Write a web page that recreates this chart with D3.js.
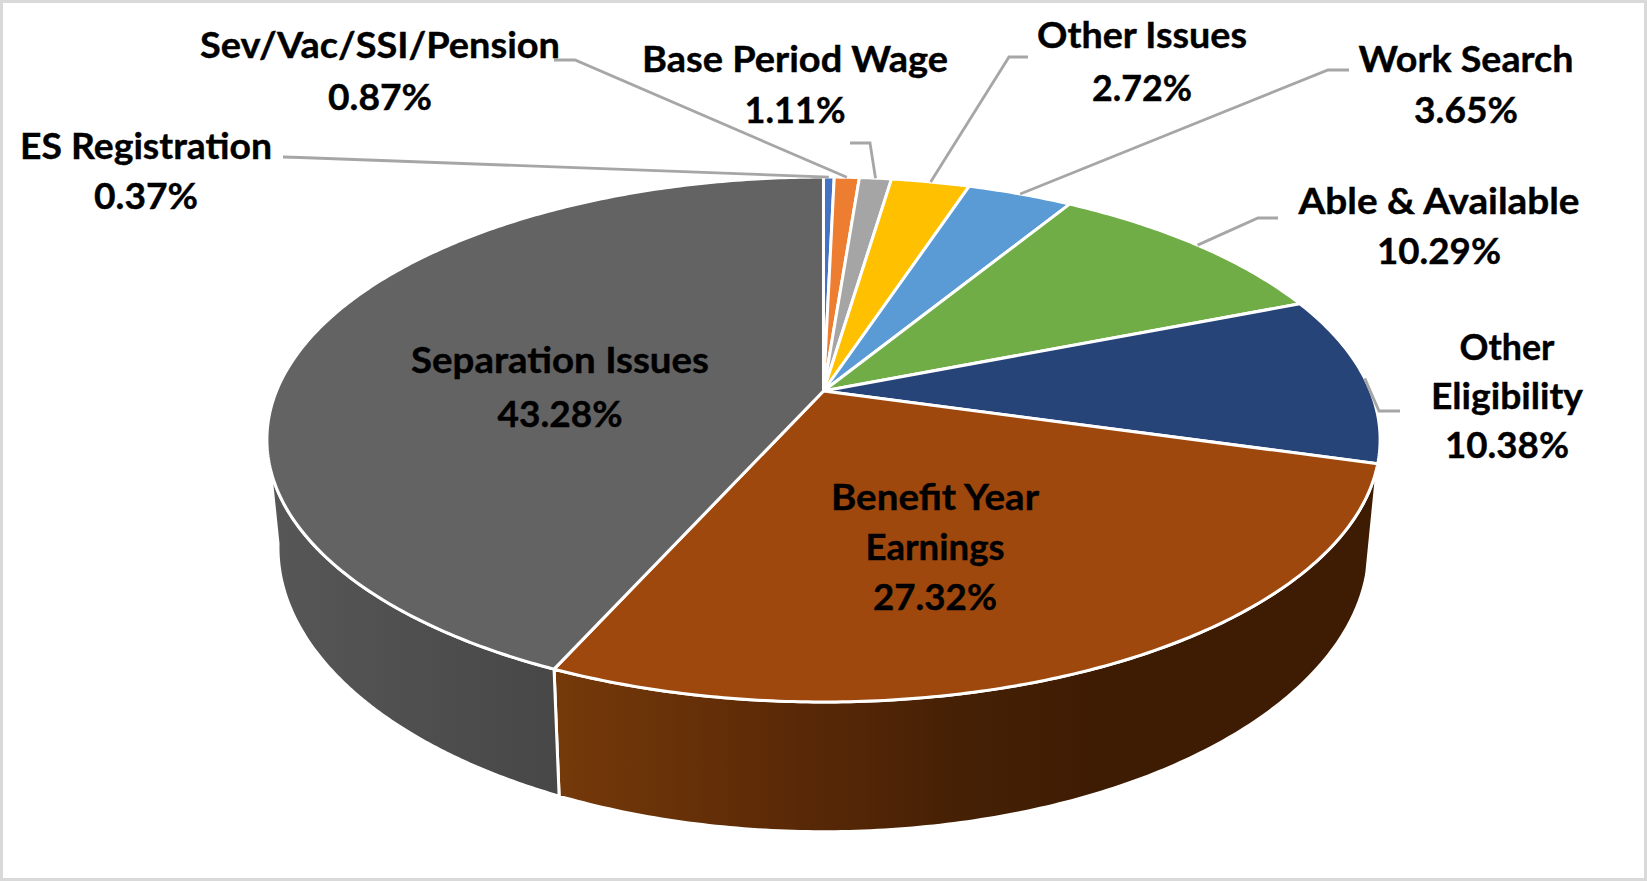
<!DOCTYPE html>
<html><head><meta charset="utf-8">
<script src="https://cdnjs.cloudflare.com/ajax/libs/d3/7.8.5/d3.min.js"></script>
<style>html,body{margin:0;padding:0;background:#fff;overflow:hidden}svg{display:block}
text{font-family:Lato,"Open Sans",sans-serif;font-weight:700;fill:#000;stroke:#000;stroke-width:.4px;font-size:37px;text-anchor:middle;dominant-baseline:central}</style>
</head><body><svg id="c" width="1647" height="881"></svg>
<script>
// ---- data ----
const categories = ["ES Registration","Sev/Vac/SSI/Pension","Base Period Wage","Other Issues","Work Search","Able & Available","Other Eligibility","Benefit Year Earnings","Separation Issues"];
const values = [0.37,0.87,1.11,2.72,3.65,10.29,10.38,27.32,43.28];
const colors = ["#4472C4","#ED7D31","#A5A5A5","#FFC000","#5B9BD5","#70AD47","#264478","#9E480E","#636363"];
const labelLines = [["ES Registration"],["Sev/Vac/SSI/Pension"],["Base Period Wage"],["Other Issues"],["Work Search"],["Able & Available"],["Other","Eligibility"],["Benefit Year","Earnings"],["Separation Issues"]];
// ---- layout ----
const labelCenter = [[146,144.5,50],[380,43,52],[795,57,51],[1142,33,53],[1466,57,51],[1439,199,50],[1507,345.5,49],[935,495.5,50],[560,358,54]];
const labelWidths = [[252,104],[360,104],[306,101],[210,100],[215,104],[281,124],[95,152,124],[208,139,124],[298,125]];
const leaderElbows = [[[283,157],[300,157.5]],[[554,60],[575,60]],[[850,143],[870,143]],[[1028,57],[1009,57]],[[1349,70],[1328,70]],[[1278,218],[1258,218]],[[1400,411],[1379,411]],null,null];
const sideEndTrim = {7:0,8:-100*Math.PI/180+2*Math.PI};
const sideGradients = {7:[["0%","#763a0a"],["25%","#5e2b07"],["50%","#452005"],["65%","#3e1c03"],["100%","#3e1c03"]],8:[["0%","#575757"],["100%","#474747"]]};
const topPlane = {ax:823.5,ay:391,A:547,B:253.5,k:0.1848};
const botPlane = {ax:823.5,ay:494.5,A:536,B:274.5,k:0.186};
const project = (p,t)=>{const u=Math.sin(t),v=Math.cos(t),w=1+p.k*v;return [p.ax+p.A*u/w,p.ay-p.B*v/w];};

const svg=d3.select("#c");
svg.append("rect").attr("x",1.5).attr("y",1.5).attr("width",1644).attr("height",878).attr("fill","#fff").attr("stroke","#d9d9d9").attr("stroke-width",3);

const pie=d3.pie().value(d=>d).sort(null).startAngle(0).endAngle(2*Math.PI);
const arcs=pie(values);
const line=d3.line();
const samples=(a,b,n=160)=>d3.range(n+1).map(i=>a+(b-a)*i/n);

const defs=svg.append("defs");
// side walls
[7,8].forEach(i=>{
  const a=arcs[i];
  const start=a.startAngle;
  const end=sideEndTrim[i]||a.endAngle;
  const ts=samples(start,end);
  const pts=ts.map(t=>project(topPlane,t)).concat(ts.slice().reverse().map(t=>project(botPlane,t)));
  const xs=d3.extent(pts,p=>p[0]);
  const g=defs.append("linearGradient").attr("id","side"+i).attr("gradientUnits","userSpaceOnUse")
    .attr("x1",xs[0]).attr("x2",xs[1]).attr("y1",0).attr("y2",0);
  sideGradients[i].forEach(s=>g.append("stop").attr("offset",s[0]).attr("stop-color",s[1]));
  svg.append("path").attr("d",line(pts)+"Z").attr("fill",`url(#side${i})`).attr("stroke","#fff").attr("stroke-width",3).attr("stroke-linejoin","round");
});
// top faces
const apex=[topPlane.ax,topPlane.ay];
svg.selectAll("path.slice").data(arcs).join("path").attr("class","slice")
  .attr("d",d=>line([apex,...samples(d.startAngle,d.endAngle,Math.max(8,Math.round(d.value*6))).map(t=>project(topPlane,t))])+"Z")
  .attr("fill",(d,i)=>colors[i]).attr("stroke","#fff").attr("stroke-width",3).attr("stroke-linejoin","round");
// leaders
arcs.forEach((d,i)=>{
  if(!leaderElbows[i])return;
  const end=project(topPlane,(d.startAngle+d.endAngle)/2);
  svg.append("path").attr("d",line([...leaderElbows[i],end])).attr("fill","none").attr("stroke","#a6a6a6").attr("stroke-width",2.8);
});
// labels
categories.forEach((c,i)=>{
  const lines=[...labelLines[i],values[i].toFixed(2)+"%"];
  const [x,y,h]=labelCenter[i];
  lines.forEach((s,j)=>{
    svg.append("text").attr("x",x).attr("y",y+j*h).text(s)
      .attr("textLength",labelWidths[i][j]).attr("lengthAdjust","spacingAndGlyphs");
  });
});
</script></body></html>
